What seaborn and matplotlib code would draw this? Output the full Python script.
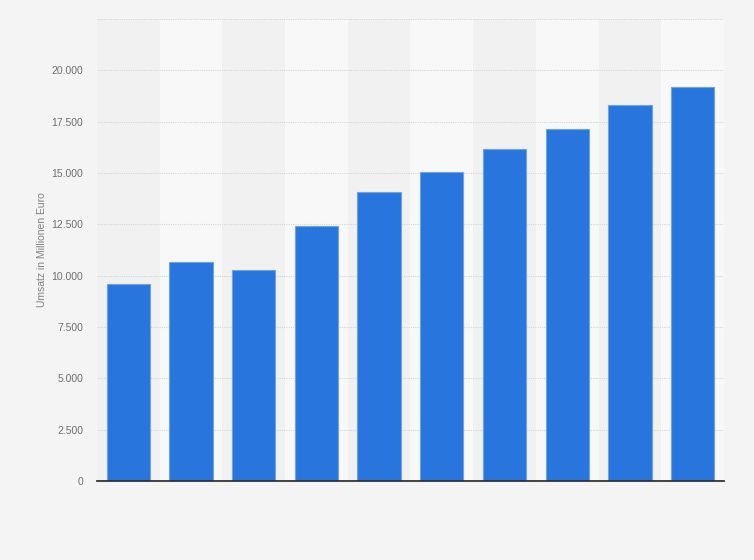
import matplotlib
matplotlib.use("Agg")
import matplotlib.pyplot as plt
import matplotlib.ticker as mticker
import seaborn as sns
import pandas as pd

# categories (x labels are not shown in the chart)
categories = ["1", "2", "3", "4", "5", "6", "7", "8", "9", "10"]
umsatz = [9600, 10670, 10290, 12420, 14080, 15030, 16190, 17120, 18290, 19170]
y_ticks = [0, 2500, 5000, 7500, 10000, 12500, 15000, 17500, 20000]

df = pd.DataFrame({"kategorie": categories, "umsatz": umsatz})

sns.set_style("white")
plt.rcParams["font.family"] = ["Liberation Sans", "DejaVu Sans"]

fig = plt.figure(figsize=(7.54, 5.6), dpi=100, facecolor="#f4f4f4")
ax = fig.add_axes([0.1286, 0.1411, 0.8316, 0.8249])
ax.set_facecolor("#f8f8f8")

# alternating column bands
for i in range(len(categories)):
    if i % 2 == 0:
        ax.axvspan(i - 0.5, i + 0.5, color="#f1f1f1", zorder=0, lw=0)

sns.barplot(data=df, x="kategorie", y="umsatz", color="#2876dd", width=0.69,
            edgecolor="#6ea2ea", linewidth=0.8, saturation=1, ax=ax, zorder=3)

ax.set_xlim(-0.5, len(categories) - 0.5)
ax.set_ylim(0, 22500)
ax.set_yticks(y_ticks)
ax.yaxis.set_major_formatter(mticker.FuncFormatter(lambda v, p: f"{int(v):,}".replace(",", ".")))
ax.set_yticks([22500], minor=True)
ax.grid(axis="y", which="both", linestyle=(0, (1, 1)), color="#d6d6d6", linewidth=0.8, zorder=1)
ax.set_axisbelow(True)

ax.set_xticks([])
ax.set_xlabel("")
ax.set_ylabel("Umsatz in Millionen Euro", fontsize=7.5, color="#808080", labelpad=3)
ax.tick_params(axis="y", which="both", length=0, labelsize=7.5, labelcolor="#6e6e6e", pad=10)

for s in ["top", "right", "left"]:
    ax.spines[s].set_visible(False)
ax.spines["bottom"].set_color("#333333")
ax.spines["bottom"].set_linewidth(1.3)
ax.spines["bottom"].set_zorder(5)

fig.savefig("out.png", dpi=100, facecolor=fig.get_facecolor())
